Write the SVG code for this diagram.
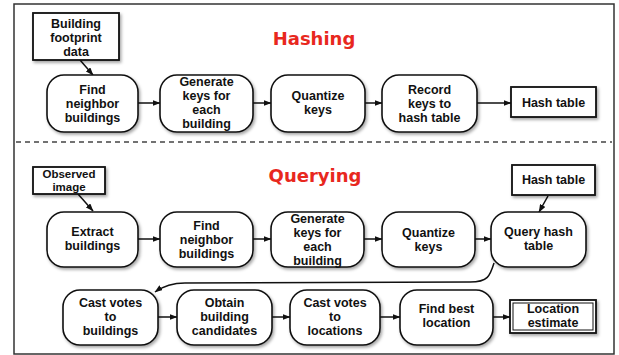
<svg xmlns="http://www.w3.org/2000/svg" width="619" height="355" viewBox="0 0 619 355">
<style>
.n{fill:#fff;stroke:#111;stroke-width:1.6}
.b{fill:#fff;stroke:#111;stroke-width:1.8}
.t{font-family:"Liberation Sans",Arial,sans-serif;font-weight:700;font-size:12.5px;text-anchor:middle;fill:#111}
.s{font-size:11.5px}
.ttl{font-family:"DejaVu Sans",sans-serif;font-weight:700;font-size:18px;text-anchor:middle;fill:#e8281e}
.c{fill:none;stroke:#111;stroke-width:1.5}
</style>
<defs>
<filter id="sh" x="-10%" y="-10%" width="125%" height="130%">
<feDropShadow dx="1.5" dy="2" stdDeviation="1.4" flood-color="#000" flood-opacity="0.35"/>
</filter>
<marker id="ah" markerWidth="8" markerHeight="6" refX="7.5" refY="3" orient="auto" markerUnits="userSpaceOnUse">
<path d="M0,0 L8,3 L0,6 Z" fill="#111"/>
</marker>
</defs>
<rect x="0" y="0" width="619" height="355" fill="#fff"/>
<rect x="14" y="4" width="600" height="350" fill="none" stroke="#333" stroke-width="1.5"/>
<line x1="16" y1="142" x2="612" y2="142" stroke="#444" stroke-width="1.5" stroke-dasharray="5 4"/>
<text class="ttl" x="314" y="45">Hashing</text>
<text class="ttl" x="315" y="182">Querying</text>

<g id="connectors">
<line class="c" x1="80" y1="60" x2="93" y2="75" marker-end="url(#ah)"/>
<line class="c" x1="138" y1="103" x2="160" y2="103" marker-end="url(#ah)"/>
<line class="c" x1="253" y1="103" x2="271" y2="103" marker-end="url(#ah)"/>
<line class="c" x1="365" y1="103" x2="382" y2="103" marker-end="url(#ah)"/>
<line class="c" x1="477" y1="103" x2="511" y2="103" marker-end="url(#ah)"/>
<line class="c" x1="78" y1="194" x2="93" y2="211" marker-end="url(#ah)"/>
<line class="c" x1="548" y1="196" x2="539" y2="212" marker-end="url(#ah)"/>
<line class="c" x1="138" y1="239" x2="160" y2="239" marker-end="url(#ah)"/>
<line class="c" x1="253" y1="239" x2="271" y2="239" marker-end="url(#ah)"/>
<line class="c" x1="364" y1="239" x2="382" y2="239" marker-end="url(#ah)"/>
<line class="c" x1="475" y1="239" x2="491" y2="239" marker-end="url(#ah)"/>
<path class="c" d="M494,263 C490,276 488,282 470,282 L185,283 C170,283 162,287 155,292" marker-end="url(#ah)"/>
<line class="c" x1="158" y1="317" x2="177" y2="317" marker-end="url(#ah)"/>
<line class="c" x1="272" y1="317" x2="290" y2="317" marker-end="url(#ah)"/>
<line class="c" x1="380" y1="317" x2="400" y2="317" marker-end="url(#ah)"/>
<line class="c" x1="493" y1="317" x2="510" y2="317" marker-end="url(#ah)"/>
</g>

<g id="footprint">
<rect class="b" x="33" y="13" width="86" height="47" filter="url(#sh)"/>
<text class="t" x="76" y="28">Building</text>
<text class="t" x="76" y="42">footprint</text>
<text class="t" x="76" y="56">data</text>
</g>
<g id="h-find">
<rect class="n" x="47" y="75" width="91" height="57" rx="17" filter="url(#sh)"/>
<text class="t" x="92.5" y="94">Find</text>
<text class="t" x="92.5" y="108">neighbor</text>
<text class="t" x="92.5" y="122">buildings</text>
</g>
<g id="h-gen">
<rect class="n" x="160" y="75" width="93" height="57" rx="17" filter="url(#sh)"/>
<text class="t" x="206.5" y="86">Generate</text>
<text class="t" x="206.5" y="100">keys for</text>
<text class="t" x="206.5" y="114">each</text>
<text class="t" x="206.5" y="128">building</text>
</g>
<g id="h-quant">
<rect class="n" x="271" y="75" width="94" height="57" rx="17" filter="url(#sh)"/>
<text class="t" x="318" y="100">Quantize</text>
<text class="t" x="318" y="114">keys</text>
</g>
<g id="h-record">
<rect class="n" x="382" y="75" width="95" height="57" rx="17" filter="url(#sh)"/>
<text class="t" x="429.5" y="94">Record</text>
<text class="t" x="429.5" y="108">keys to</text>
<text class="t" x="429.5" y="122">hash table</text>
</g>
<g id="h-hash">
<rect class="b" x="511" y="87" width="85" height="30" filter="url(#sh)"/>
<text class="t" x="553.5" y="107">Hash table</text>
</g>

<g id="observed">
<rect class="b" x="33" y="167" width="72" height="27" filter="url(#sh)"/>
<text class="t s" x="69" y="178">Observed</text>
<text class="t s" x="69" y="191">image</text>
</g>
<g id="q-hash">
<rect class="b" x="512" y="165" width="83" height="30" filter="url(#sh)"/>
<text class="t" x="553.5" y="184">Hash table</text>
</g>
<g id="q-extract">
<rect class="n" x="47" y="212" width="91" height="55" rx="17" filter="url(#sh)"/>
<text class="t" x="92.5" y="236">Extract</text>
<text class="t" x="92.5" y="250">buildings</text>
</g>
<g id="q-find">
<rect class="n" x="160" y="212" width="93" height="55" rx="17" filter="url(#sh)"/>
<text class="t" x="206.5" y="230">Find</text>
<text class="t" x="206.5" y="244">neighbor</text>
<text class="t" x="206.5" y="258">buildings</text>
</g>
<g id="q-gen">
<rect class="n" x="271" y="212" width="93" height="55" rx="17" filter="url(#sh)"/>
<text class="t" x="317.5" y="223">Generate</text>
<text class="t" x="317.5" y="237">keys for</text>
<text class="t" x="317.5" y="251">each</text>
<text class="t" x="317.5" y="265">building</text>
</g>
<g id="q-quant">
<rect class="n" x="382" y="212" width="93" height="55" rx="17" filter="url(#sh)"/>
<text class="t" x="428.5" y="237">Quantize</text>
<text class="t" x="428.5" y="251">keys</text>
</g>
<g id="q-query">
<rect class="n" x="491" y="212" width="95" height="55" rx="17" filter="url(#sh)"/>
<text class="t" x="538.5" y="236">Query hash</text>
<text class="t" x="538.5" y="250">table</text>
</g>

<g id="r-castb">
<rect class="n" x="63" y="290" width="95" height="55" rx="17" filter="url(#sh)"/>
<text class="t" x="110.5" y="307">Cast votes</text>
<text class="t" x="110.5" y="321">to</text>
<text class="t" x="110.5" y="335">buildings</text>
</g>
<g id="r-obtain">
<rect class="n" x="177" y="290" width="95" height="55" rx="17" filter="url(#sh)"/>
<text class="t" x="224.5" y="307">Obtain</text>
<text class="t" x="224.5" y="321">building</text>
<text class="t" x="224.5" y="335">candidates</text>
</g>
<g id="r-castl">
<rect class="n" x="290" y="290" width="90" height="55" rx="17" filter="url(#sh)"/>
<text class="t" x="335" y="307">Cast votes</text>
<text class="t" x="335" y="321">to</text>
<text class="t" x="335" y="335">locations</text>
</g>
<g id="r-best">
<rect class="n" x="400" y="290" width="93" height="55" rx="17" filter="url(#sh)"/>
<text class="t" x="446.5" y="313">Find best</text>
<text class="t" x="446.5" y="327">location</text>
</g>
<g id="r-estimate">
<rect class="b" x="510" y="300" width="86" height="33" filter="url(#sh)"/>
<rect x="513" y="303" width="80" height="27" fill="none" stroke="#111" stroke-width="1"/>
<text class="t" x="553" y="313">Location</text>
<text class="t" x="553" y="327">estimate</text>
</g>
</svg>
